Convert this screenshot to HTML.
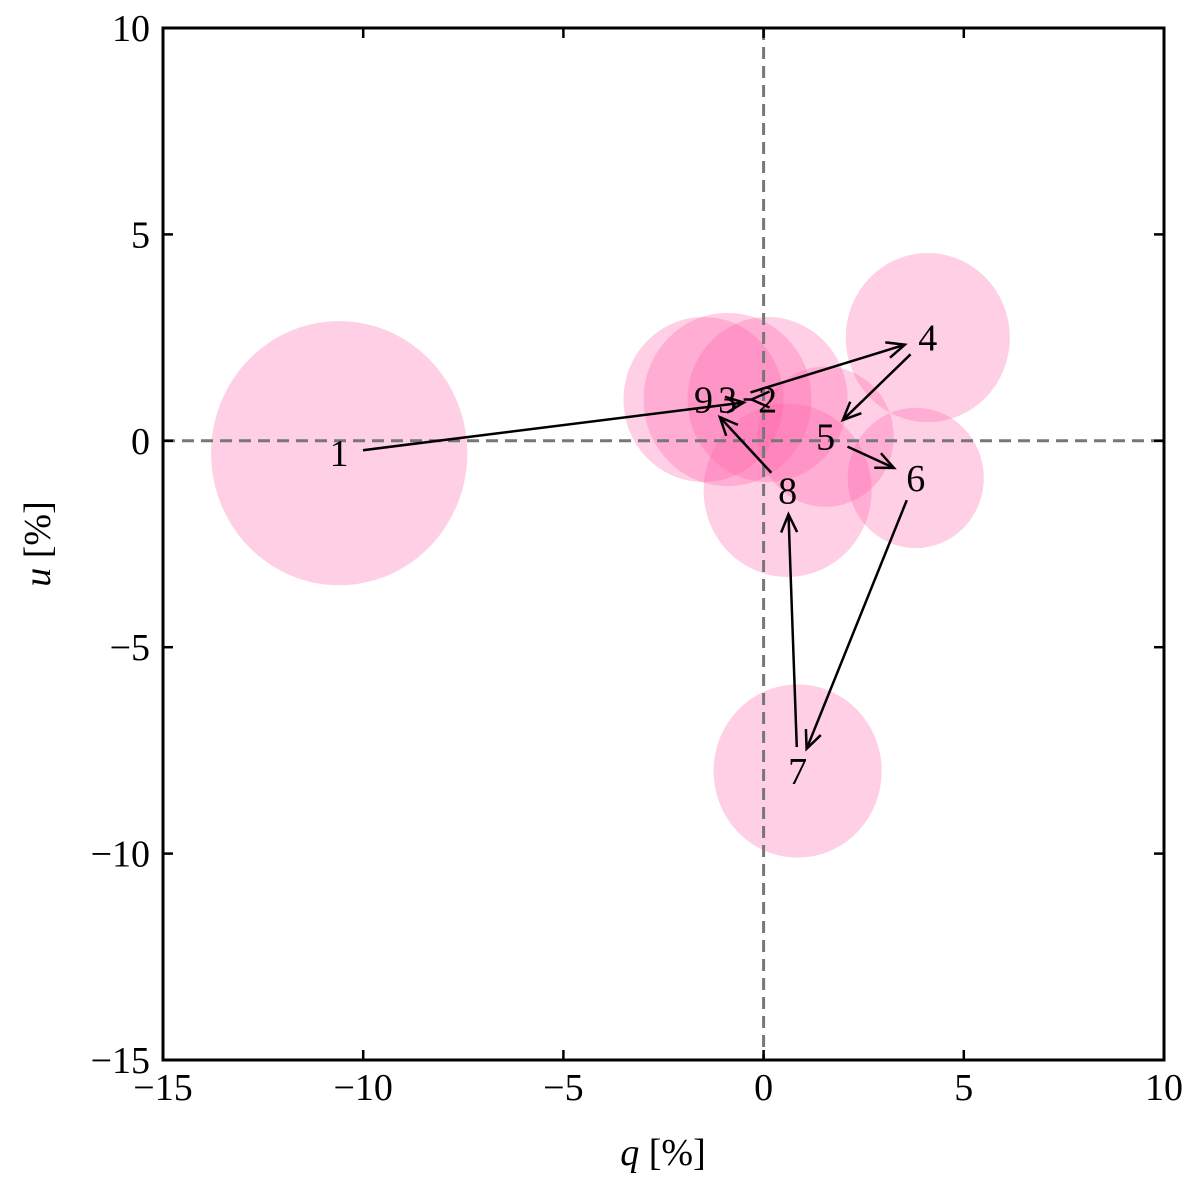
<!DOCTYPE html>
<html><head><meta charset="utf-8"><style>
body{margin:0;background:#fff}
text{font-family:"Liberation Serif",serif;fill:#000}
</style></head><body>
<svg id="chart" width="1200" height="1186" viewBox="0 0 1200 1186" xmlns="http://www.w3.org/2000/svg">
<g id="circles"></g>
<g id="zeros"></g>
<g id="arrows"></g>
<g id="labels"></g>
<rect x="163" y="28" width="1001" height="1032" fill="none" stroke="#000" stroke-width="3"/>
<g id="ticks"></g>
<text x="663" y="1165" font-size="38" text-anchor="middle"><tspan font-style="italic">q</tspan> [%]</text>
<text transform="translate(50,544) rotate(-90)" font-size="38" text-anchor="middle"><tspan font-style="italic">u</tspan> [%]</text>
</svg>
<script>
const labels=["1","2","3","4","5","6","7","8","9"];
const qVals=[-10.6,0.1,-0.9,4.1,1.55,3.8,0.85,0.6,-1.5];
const uVals=[-0.3,1.0,1.0,2.5,0.1,-0.9,-8.0,-1.2,1.0];
const radii=[3.2,2.0,2.1,2.05,1.7,1.7,2.1,2.1,2.0];
const xTicks=[-15,-10,-5,0,5,10];
const yTicks=[-15,-10,-5,0,5,10];
const X0=163,X1=1164,Y0=1060,Y1=28,xmin=-15,xmax=10,ymin=-15,ymax=10;
const sx=v=>X0+(v-xmin)/(xmax-xmin)*(X1-X0);
const sy=v=>Y0-(v-ymin)/(ymax-ymin)*(Y0-Y1);
const NS="http://www.w3.org/2000/svg";
function mk(t,p,a){const e=document.createElementNS(NS,t);for(const k in a)e.setAttribute(k,a[k]);p.appendChild(e);return e;}
const gc=document.getElementById('circles');
labels.forEach((l,i)=>{
 const c=mk('ellipse',gc,{cx:sx(qVals[i]),cy:sy(uVals[i]),rx:sx(radii[i])-sx(0),ry:sy(0)-sy(radii[i]),fill:'#ff5fa8','fill-opacity':0.3});
 
 
});
const gz=document.getElementById('zeros');
let l1=mk('line',gz,{x1:sx(0),x2:sx(0),y1:Y1,y2:Y0,stroke:'#777','stroke-width':3,'stroke-dasharray':'12,7'});


let l2=mk('line',gz,{x1:X0,x2:X1,y1:sy(0),y2:sy(0),stroke:'#777','stroke-width':3,'stroke-dasharray':'12,7'});


const ga=document.getElementById('arrows');
for(let i=0;i<labels.length-1;i++){
 const ax=sx(qVals[i]),ay=sy(uVals[i]),bx=sx(qVals[i+1]),by=sy(uVals[i+1]);
 const dx=bx-ax,dy=by-ay,L=Math.hypot(dx,dy),ux=dx/L,uy=dy/L,s=24;
 const x1=ax+ux*s,y1=ay+uy*s,x2=bx-ux*s,y2=by-uy*s;
 const g=mk('g',ga,{});
 
 
 mk('line',g,{x1:x1,y1:y1,x2:x2,y2:y2,stroke:'#000','stroke-width':2.5});
 const h=18,w=8;
 mk('polyline',g,{points:`${x2-ux*h-uy*w},${y2-uy*h+ux*w} ${x2},${y2} ${x2-ux*h+uy*w},${y2-uy*h-ux*w}`,fill:'none',stroke:'#000','stroke-width':2.5});
}
const gl=document.getElementById('labels');
labels.forEach((l,i)=>{
 const t=mk('text',gl,{x:sx(qVals[i]),y:sy(uVals[i])+13,'font-size':38,'text-anchor':'middle'});
 t.textContent=l;
 
 
});
const gt=document.getElementById('ticks');
xTicks.forEach(v=>{
 const x=sx(v);
 mk('line',gt,{x1:x,x2:x,y1:Y0,y2:Y0-10,stroke:'#000','stroke-width':2.5});
 mk('line',gt,{x1:x,x2:x,y1:Y1,y2:Y1+10,stroke:'#000','stroke-width':2.5});
 const t=mk('text',gt,{x:x,y:1100,'font-size':38,'text-anchor':'middle'});
 t.textContent=v<0?'\u2212'+(-v):String(v);
 
 
});
yTicks.forEach(v=>{
 const y=sy(v);
 mk('line',gt,{x1:X0,x2:X0+10,y1:y,y2:y,stroke:'#000','stroke-width':2.5});
 mk('line',gt,{x1:X1,x2:X1-10,y1:y,y2:y,stroke:'#000','stroke-width':2.5});
 const t=mk('text',gt,{x:150,y:y+13,'font-size':38,'text-anchor':'end'});
 t.textContent=v<0?'\u2212'+(-v):String(v);
 
 
});
</script>
</body></html>
